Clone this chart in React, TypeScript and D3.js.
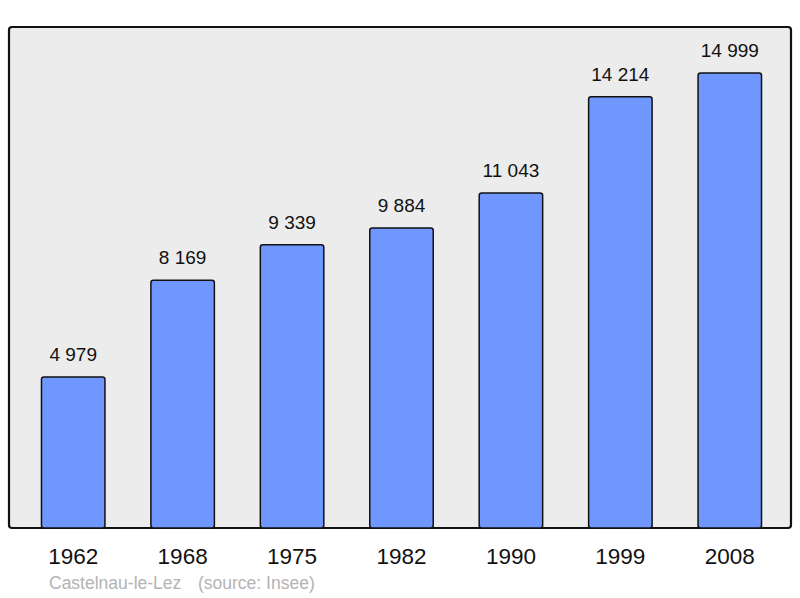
import React from "react";
import * as d3 from "d3";

const years = ["1962", "1968", "1975", "1982", "1990", "1999", "2008"];
const population = [4979, 8169, 9339, 9884, 11043, 14214, 14999];
const valueLabels = ["4 979", "8 169", "9 339", "9 884", "11 043", "14 214", "14 999"];
const placeLabel = "Castelnau-le-Lez";
const sourceLabel = "(source: Insee)";

export default function App() {
  const W = 800, H = 598;
  const left = 9, right = 791, top = 27, bottom = 528;
  const x = d3.scaleBand<string>().domain(years).range([18.5, 784.5]).paddingInner(0.42).paddingOuter(0.21);
  const y = d3.scaleLinear().domain([0, 15000]).range([bottom, bottom - 455.1]);
  return (
    <svg width={W} height={H} style={{ position: "absolute", left: 0, top: 0 }} fontFamily="'Liberation Sans', Arial, sans-serif">
      <rect x={left} y={top} width={right - left} height={bottom - top} rx={3} fill="#ececec" stroke="#111" strokeWidth={2.2} />
      {years.map((yr, i) => {
        const bx = x(yr)!;
        const by = y(population[i]);
        return (
          <g key={yr}>
            <rect x={bx} y={by} width={x.bandwidth()} height={bottom - by} rx={2.5} fill="#7096ff" stroke="#111" strokeWidth={1.5} />
            <text x={bx + x.bandwidth() / 2} y={by - 16} textAnchor="middle" fontSize={19} fill="#111">{valueLabels[i]}</text>
            <text x={bx + x.bandwidth() / 2} y={564} textAnchor="middle" fontSize={22.5} fill="#111">{yr}</text>
          </g>
        );
      })}
      <text x={49} y={589} fontSize={17.5} fill="#b4b4b4">{placeLabel}</text>
      <text x={198} y={589} fontSize={17.5} fill="#b4b4b4">{sourceLabel}</text>
    </svg>
  );
}
